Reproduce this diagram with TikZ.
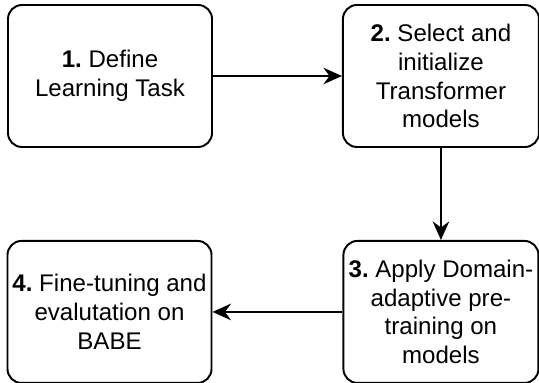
\documentclass[tikz,border=0pt]{standalone}
\usepackage{fontspec}
\setmainfont{Liberation Sans}
\usepackage{tikz}
\usetikzlibrary{positioning}
\usetikzlibrary{arrows,arrows.meta}
\frenchspacing
\tikzstyle{block} = [draw, fill=white, rectangle, rounded corners=0.28cm, line width=1.1pt, minimum height=2.84cm, inner sep=2pt, align=center, font=\fontsize{13.7}{16.4}\selectfont]

\begin{document}
\begin{tikzpicture}[auto, >={Stealth[length=3.7mm,width=3.3mm,inset=1.2mm]}, line width=1.1pt]
	\useasboundingbox (0,0) rectangle (10.78,-7.66);
	\node [block, minimum width=4.08cm] (task) at (2.2,-1.52)
		{\textbf{1.} Define\\Learning Task};
	\node [block, minimum width=3.92cm, node distance=2.58cm, right=of task] (select)
		{\textbf{2.} Select and\\initialize\\Transformer\\models};
	\node [block, minimum width=3.9cm, node distance=1.84cm, below=of select] (pretrain)
		{\textbf{3.} Apply Domain-\\adaptive pre-\\training on\\models};
	\node [block, minimum width=4.08cm, node distance=2.6cm, left=of pretrain] (finetune)
		{\textbf{4.} Fine-tuning and\\evalutation on\\BABE};

	\draw [->] (task) -- (select);
	\draw [->] (select) -- (pretrain);
	\draw [->] (pretrain) -- (finetune);
\end{tikzpicture}
\end{document}
